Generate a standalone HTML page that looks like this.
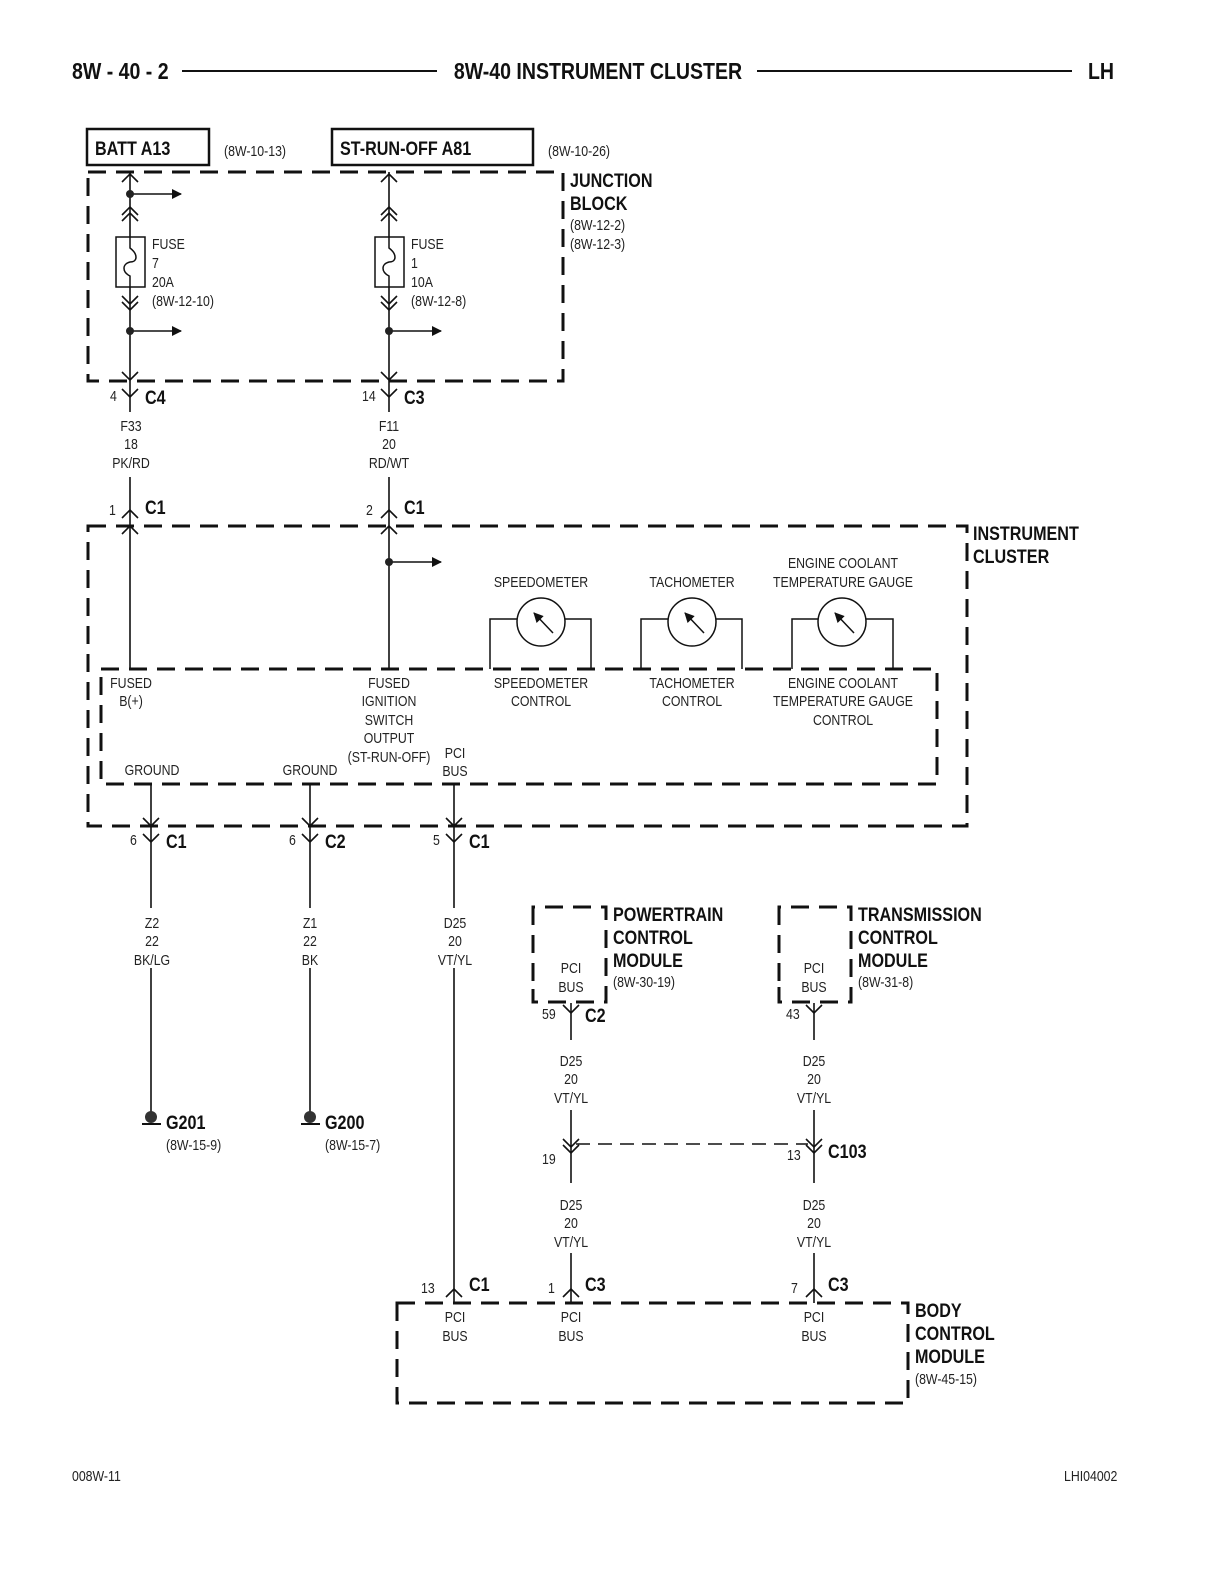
<!DOCTYPE html>
<html><head><meta charset="utf-8"><style>
body{margin:0;background:#fff}
svg{display:block}
text{font-family:"Liberation Sans Narrow","Liberation Sans",sans-serif;font-size:14.5px;fill:#222;transform-box:fill-box;transform-origin:0 50%;transform:scaleX(.85)}
.b{font-weight:bold;font-size:19px;fill:#111}
.c{text-anchor:middle;transform-origin:50% 50%}
.r{transform-origin:100% 50%}
</style></head><body>
<svg width="1224" height="1584" viewBox="0 0 1224 1584" xmlns="http://www.w3.org/2000/svg">
<defs>
<marker id="ah" markerWidth="10" markerHeight="10" refX="9" refY="5" orient="auto" markerUnits="userSpaceOnUse"><path d="M0,0 L10,5 L0,10 z" fill="#111"/></marker>
</defs>
<g stroke="#111" fill="none">
<line x1="182" y1="71" x2="437" y2="71" stroke-width="2"/>
<line x1="757" y1="71" x2="1072" y2="71" stroke-width="2"/>

<rect x="88" y="172" width="475" height="209" stroke-width="3" stroke-dasharray="18,10"/>
<rect x="87" y="129" width="122" height="36" stroke-width="2.5"/>
<rect x="332" y="129" width="201" height="36" stroke-width="2.5"/>
<line x1="130" y1="172" x2="130" y2="412" stroke-width="1.6"/>
<line x1="389" y1="172" x2="389" y2="412" stroke-width="1.6"/>
<path d="M122,182 L130,174 L138,182 M122,215 L130,207 L138,215 M122,221 L130,213 L138,221 M122,296 L130,304 L138,296 M122,302 L130,310 L138,302 M122,372 L130,380 L138,372" stroke-width="1.6"/>
<path d="M381,182 L389,174 L397,182 M381,215 L389,207 L397,215 M381,221 L389,213 L397,221 M381,296 L389,304 L397,296 M381,302 L389,310 L397,302 M381,372 L389,380 L397,372" stroke-width="1.6"/>
<rect x="116" y="237" width="29" height="50" stroke-width="1.5" fill="#fff"/>
<path d="M130,237 L130,248 C138,254 138,262 130,262 C122,264 122,272 130,276 L130,287" stroke-width="1.5"/>
<rect x="375" y="237" width="29" height="50" stroke-width="1.5" fill="#fff"/>
<path d="M389,237 L389,248 C397,254 397,262 389,262 C381,264 381,272 389,276 L389,287" stroke-width="1.5"/>
<line x1="130" y1="194" x2="181" y2="194" stroke-width="1.6" marker-end="url(#ah)"/>
<line x1="130" y1="331" x2="181" y2="331" stroke-width="1.6" marker-end="url(#ah)"/>
<line x1="389" y1="331" x2="441" y2="331" stroke-width="1.6" marker-end="url(#ah)"/>
<path d="M122,389 L130,397 L138,389 M381,389 L389,397 L397,389" stroke-width="1.6"/>
<line x1="130" y1="477" x2="130" y2="669" stroke-width="1.6"/>
<line x1="389" y1="477" x2="389" y2="669" stroke-width="1.6"/>
<path d="M122,518 L130,510 L138,518 M381,518 L389,510 L397,518 M122,534 L130,526 L138,534 M381,534 L389,526 L397,534" stroke-width="1.6"/>
<line x1="389" y1="562" x2="441" y2="562" stroke-width="1.6" marker-end="url(#ah)"/>

<rect x="88" y="526" width="879" height="300" stroke-width="3" stroke-dasharray="18,10"/>
<rect x="101" y="669" width="836" height="115" stroke-width="3" stroke-dasharray="18,10"/>
<path d="M490,669 V619 H517 M565,619 H591 V669" stroke-width="1.5"/>
<circle cx="541" cy="622" r="24" stroke-width="1.5"/>
<path d="M641,669 V619 H668 M716,619 H742 V669" stroke-width="1.5"/>
<circle cx="692" cy="622" r="24" stroke-width="1.5"/>
<path d="M792,669 V619 H818 M866,619 H893 V669" stroke-width="1.5"/>
<circle cx="842" cy="622" r="24" stroke-width="1.5"/>
<line x1="553" y1="633" x2="534" y2="613" stroke-width="1.5" marker-end="url(#ah)"/>
<line x1="704" y1="633" x2="685" y2="613" stroke-width="1.5" marker-end="url(#ah)"/>
<line x1="854" y1="633" x2="835" y2="613" stroke-width="1.5" marker-end="url(#ah)"/>
<line x1="151" y1="784" x2="151" y2="1115" stroke-width="1.6"/>
<line x1="310" y1="784" x2="310" y2="1115" stroke-width="1.6"/>
<line x1="454" y1="784" x2="454" y2="1303" stroke-width="1.6"/>
<path d="M143,818 L151,826 L159,818 M302,818 L310,826 L318,818 M446,818 L454,826 L462,818" stroke-width="1.6"/>
<path d="M143,834 L151,842 L159,834 M302,834 L310,842 L318,834 M446,834 L454,842 L462,834" stroke-width="1.6"/>
</g>
<g fill="#222">
<circle cx="130" cy="194" r="4"/><circle cx="130" cy="331" r="4"/><circle cx="389" cy="331" r="4"/><circle cx="389" cy="562" r="4"/>
</g>
<g fill="#fff">
<rect x="100" y="416" width="60" height="60"/><rect x="360" y="416" width="60" height="60"/>
<rect x="120" y="908" width="60" height="60"/><rect x="280" y="908" width="60" height="60"/><rect x="424" y="908" width="60" height="60"/>
</g>
<g stroke="#111" fill="none">
<line x1="142" y1="1124" x2="161" y2="1124" stroke-width="2"/>
<line x1="301" y1="1124" x2="320" y2="1124" stroke-width="2"/>
</g>
<circle cx="151" cy="1117" r="6" fill="#333"/>
<circle cx="310" cy="1117" r="6" fill="#333"/>

<g stroke="#111" fill="none">
<path d="M533,923 V907 H606 V1002 H533 V985" stroke-width="3" stroke-dasharray="18,10"/>
<path d="M779,923 V907 H851 V1002 H779 V985" stroke-width="3" stroke-dasharray="18,10"/>
<line x1="533" y1="907" x2="533" y2="1002" stroke-width="3" stroke-dasharray="18,10"/>
<line x1="779" y1="907" x2="779" y2="1002" stroke-width="3" stroke-dasharray="18,10"/>
<line x1="571" y1="1003" x2="571" y2="1040" stroke-width="1.6"/>
<line x1="814" y1="1003" x2="814" y2="1040" stroke-width="1.6"/>
<path d="M563,1005 L571,1013 L579,1005 M806,1005 L814,1013 L822,1005" stroke-width="1.6"/>
<line x1="571" y1="1110" x2="571" y2="1183" stroke-width="1.6"/>
<line x1="814" y1="1110" x2="814" y2="1183" stroke-width="1.6"/>
<path d="M563,1139 L571,1147 L579,1139 M563,1145 L571,1153 L579,1145 M806,1139 L814,1147 L822,1139 M806,1145 L814,1153 L822,1145" stroke-width="1.6"/>
<line x1="576" y1="1144" x2="808" y2="1144" stroke-width="1.5" stroke-dasharray="14,8"/>
<line x1="571" y1="1253" x2="571" y2="1303" stroke-width="1.6"/>
<line x1="814" y1="1253" x2="814" y2="1303" stroke-width="1.6"/>
<path d="M446,1297 L454,1289 L462,1297 M563,1297 L571,1289 L579,1297 M806,1297 L814,1289 L822,1297" stroke-width="1.6"/>
<rect x="397" y="1303" width="511" height="100" stroke-width="3" stroke-dasharray="18,10"/>
</g>

<text x="72" y="79" class="b" style="font-size:23px">8W - 40 - 2</text>
<text x="598" y="79" class="b c" style="font-size:23px">8W-40 INSTRUMENT CLUSTER</text>
<text x="1088" y="79" class="b" style="font-size:23px">LH</text>

<text x="95" y="155" class="b">BATT A13</text>
<text x="224" y="156">(8W-10-13)</text>
<text x="340" y="155" class="b">ST-RUN-OFF A81</text>
<text x="548" y="156">(8W-10-26)</text>
<text x="570" y="187" class="b">JUNCTION</text>
<text x="570" y="210" class="b">BLOCK</text>
<text x="570" y="230">(8W-12-2)</text>
<text x="570" y="249">(8W-12-3)</text>
<text x="152" y="249">FUSE</text><text x="152" y="268">7</text><text x="152" y="287">20A</text><text x="152" y="306">(8W-12-10)</text>
<text x="411" y="249">FUSE</text><text x="411" y="268">1</text><text x="411" y="287">10A</text><text x="411" y="306">(8W-12-8)</text>

<text x="110" y="401">4</text><text x="145" y="404" class="b">C4</text>
<text x="362" y="401">14</text><text x="404" y="404" class="b">C3</text>
<text x="131" y="431" class="c">F33</text><text x="131" y="449" class="c">18</text><text x="131" y="468" class="c">PK/RD</text>
<text x="389" y="431" class="c">F11</text><text x="389" y="449" class="c">20</text><text x="389" y="468" class="c">RD/WT</text>
<text x="109" y="515">1</text><text x="145" y="514" class="b">C1</text>
<text x="366" y="515">2</text><text x="404" y="514" class="b">C1</text>

<text x="973" y="540" class="b">INSTRUMENT</text>
<text x="973" y="563" class="b">CLUSTER</text>

<text x="541" y="587" class="c">SPEEDOMETER</text>
<text x="692" y="587" class="c">TACHOMETER</text>
<text x="843" y="568" class="c">ENGINE COOLANT</text>
<text x="843" y="587" class="c">TEMPERATURE GAUGE</text>

<text x="131" y="688" class="c">FUSED</text><text x="131" y="706" class="c">B(+)</text>
<text x="389" y="688" class="c">FUSED</text><text x="389" y="706" class="c">IGNITION</text><text x="389" y="725" class="c">SWITCH</text><text x="389" y="743" class="c">OUTPUT</text><text x="389" y="762" class="c">(ST-RUN-OFF)</text>
<text x="455" y="758" class="c">PCI</text><text x="455" y="776" class="c">BUS</text>
<text x="152" y="775" class="c">GROUND</text><text x="310" y="775" class="c">GROUND</text>
<text x="541" y="688" class="c">SPEEDOMETER</text><text x="541" y="706" class="c">CONTROL</text>
<text x="692" y="688" class="c">TACHOMETER</text><text x="692" y="706" class="c">CONTROL</text>
<text x="843" y="688" class="c">ENGINE COOLANT</text><text x="843" y="706" class="c">TEMPERATURE GAUGE</text><text x="843" y="725" class="c">CONTROL</text>

<text x="130" y="845">6</text><text x="166" y="848" class="b">C1</text>
<text x="289" y="845">6</text><text x="325" y="848" class="b">C2</text>
<text x="433" y="845">5</text><text x="469" y="848" class="b">C1</text>

<text x="152" y="928" class="c">Z2</text><text x="152" y="946" class="c">22</text><text x="152" y="965" class="c">BK/LG</text>
<text x="310" y="928" class="c">Z1</text><text x="310" y="946" class="c">22</text><text x="310" y="965" class="c">BK</text>
<text x="455" y="928" class="c">D25</text><text x="455" y="946" class="c">20</text><text x="455" y="965" class="c">VT/YL</text>

<text x="166" y="1129" class="b">G201</text><text x="166" y="1150">(8W-15-9)</text>
<text x="325" y="1129" class="b">G200</text><text x="325" y="1150">(8W-15-7)</text>

<text x="613" y="921" class="b">POWERTRAIN</text><text x="613" y="944" class="b">CONTROL</text><text x="613" y="967" class="b">MODULE</text><text x="613" y="987">(8W-30-19)</text>
<text x="858" y="921" class="b">TRANSMISSION</text><text x="858" y="944" class="b">CONTROL</text><text x="858" y="967" class="b">MODULE</text><text x="858" y="987">(8W-31-8)</text>
<text x="571" y="973" class="c">PCI</text><text x="571" y="992" class="c">BUS</text>
<text x="814" y="973" class="c">PCI</text><text x="814" y="992" class="c">BUS</text>
<text x="542" y="1019">59</text><text x="585" y="1022" class="b">C2</text>
<text x="786" y="1019">43</text>

<text x="571" y="1066" class="c">D25</text><text x="571" y="1084" class="c">20</text><text x="571" y="1103" class="c">VT/YL</text>
<text x="814" y="1066" class="c">D25</text><text x="814" y="1084" class="c">20</text><text x="814" y="1103" class="c">VT/YL</text>
<text x="542" y="1164">19</text><text x="787" y="1160">13</text><text x="828" y="1158" class="b">C103</text>
<text x="571" y="1210" class="c">D25</text><text x="571" y="1228" class="c">20</text><text x="571" y="1247" class="c">VT/YL</text>
<text x="814" y="1210" class="c">D25</text><text x="814" y="1228" class="c">20</text><text x="814" y="1247" class="c">VT/YL</text>

<text x="421" y="1293">13</text><text x="469" y="1291" class="b">C1</text>
<text x="548" y="1293">1</text><text x="585" y="1291" class="b">C3</text>
<text x="791" y="1293">7</text><text x="828" y="1291" class="b">C3</text>
<text x="455" y="1322" class="c">PCI</text><text x="455" y="1341" class="c">BUS</text>
<text x="571" y="1322" class="c">PCI</text><text x="571" y="1341" class="c">BUS</text>
<text x="814" y="1322" class="c">PCI</text><text x="814" y="1341" class="c">BUS</text>
<text x="915" y="1317" class="b">BODY</text><text x="915" y="1340" class="b">CONTROL</text><text x="915" y="1363" class="b">MODULE</text><text x="915" y="1384">(8W-45-15)</text>

<text x="72" y="1481">008W-11</text>
<text x="1064" y="1481">LHI04002</text>
</svg>
</body></html>
